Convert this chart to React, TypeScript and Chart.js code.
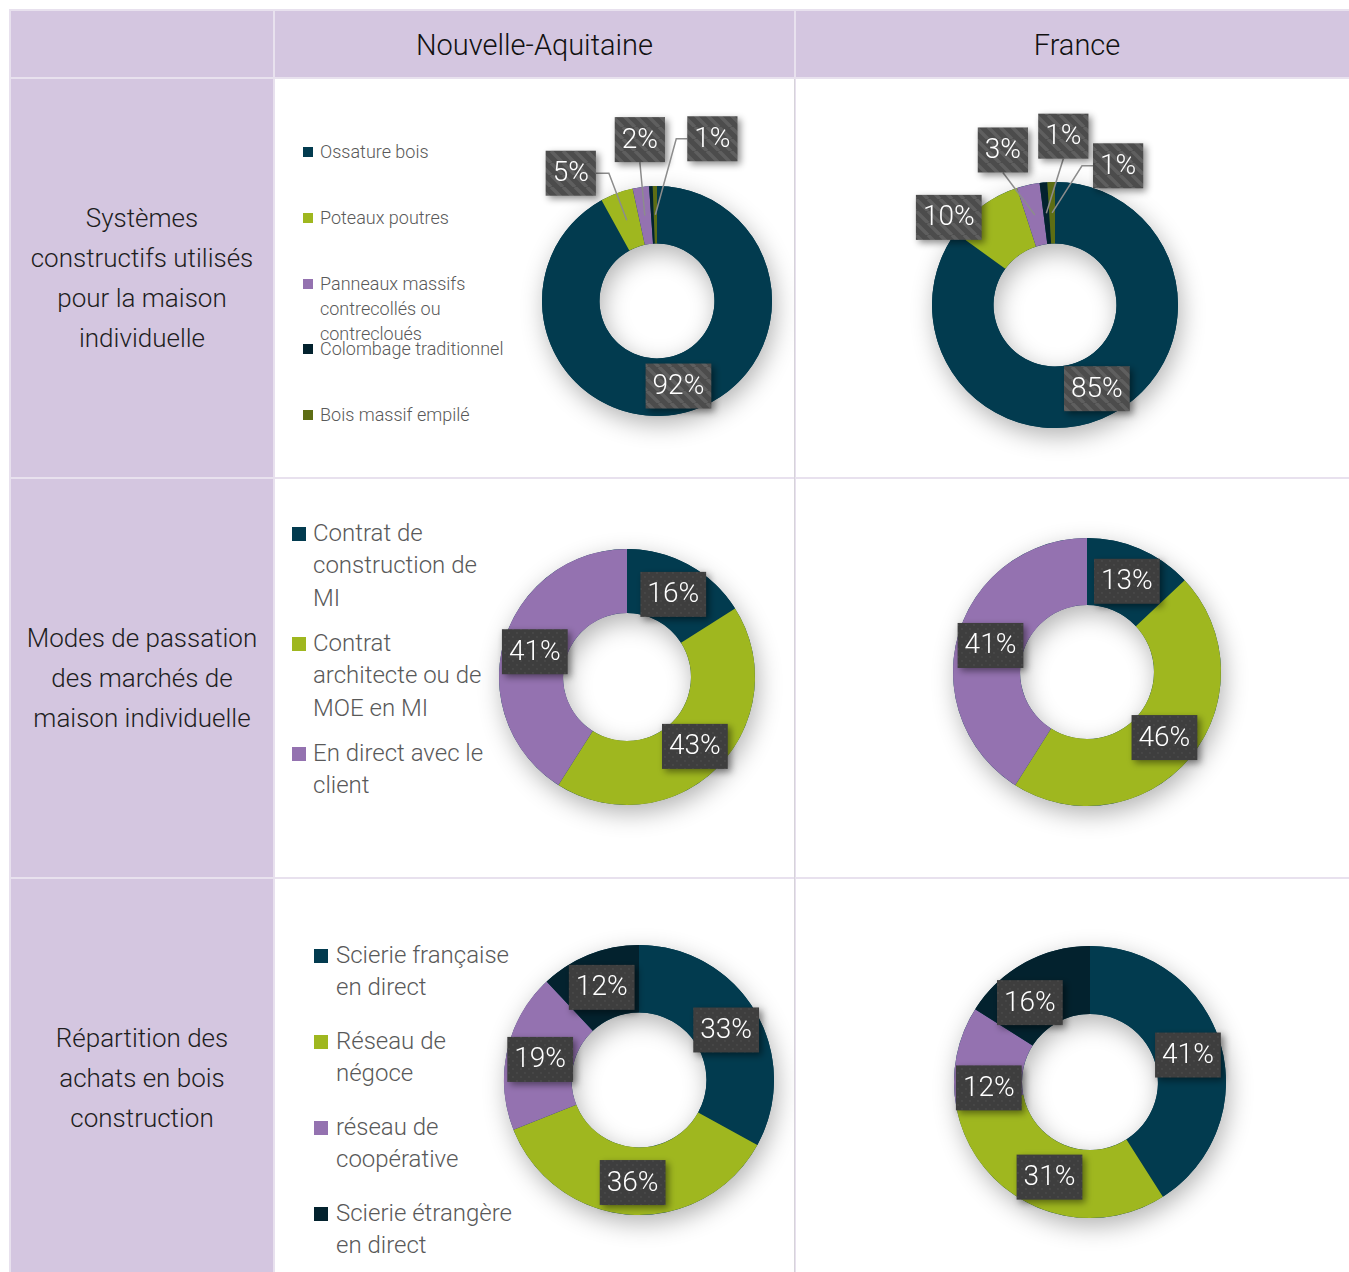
import React, { useEffect, useRef } from "react";
import { Chart, registerables } from "chart.js";
Chart.register(...registerables);

// ---------- DATA ----------
const colTitles = ["Nouvelle-Aquitaine", "France"];
const rowTitles = [
  ["Systèmes", "constructifs utilisés", "pour la maison", "individuelle"],
  ["Modes de passation", "des marchés de", "maison individuelle"],
  ["Répartition des", "achats en bois", "construction"],
];

const systemesLabels = [
  "Ossature bois",
  "Poteaux poutres",
  "Panneaux massifs contrecollés ou contrecloués",
  "Colombage traditionnel",
  "Bois massif empilé",
];
const systemesNA = [92, 4.6, 2.3, 0.5, 0.6];
const systemesFR = [85, 10, 3, 1, 1];

const modesLabels = [
  "Contrat de construction de MI",
  "Contrat architecte ou de MOE en MI",
  "En direct avec le client",
];
const modesNA = [16, 43, 41];
const modesFR = [13, 46, 41];

const achatsLabels = [
  "Scierie française en direct",
  "Réseau de négoce",
  "réseau de coopérative",
  "Scierie étrangère en direct",
];
const achatsNA = [33, 36, 19, 12];
const achatsFR = [41, 31, 12, 16];

// ---------- STYLE ----------
const TEAL = "#023b4f";
const GREEN = "#9fb71f";
const PURPLE = "#9472b0";
const DARK = "#03222e";
const OLIVE = "#5d6d14";
const systemesColors = [TEAL, GREEN, PURPLE, DARK, OLIVE];
const modesColors = [TEAL, GREEN, PURPLE];
const achatsColors = [TEAL, GREEN, PURPLE, DARK];

const FONT = "Roboto, 'Open Sans', sans-serif";
const HEADER_BG = "#d4c6e0";
const LINE = "#e8e1ee";

type Offset = { dx: number; dy: number; leader?: "left" | "right" | "bottom" | null } | null;
type Geo = { left: number; top: number; width: number; height: number; cx: number; cy: number; R: number };

const COLS = [
  { left: 275, right: 794 },
  { left: 796, right: 1349 },
];
const ROWS = [
  { top: 79, bottom: 477 },
  { top: 479, bottom: 877 },
  { top: 879, bottom: 1272 },
];

function makePattern(kind: "stripes" | "dots") {
  const t = document.createElement("canvas");
  const s = kind === "stripes" ? 12 : 8;
  t.width = s;
  t.height = s;
  const g = t.getContext("2d")!;
  if (kind === "stripes") {
    g.fillStyle = "#4c4c4c";
    g.fillRect(0, 0, s, s);
    g.strokeStyle = "#5f5f5f";
    g.lineWidth = 3.5;
    for (let k = -1; k <= 1; k++) {
      g.beginPath();
      g.moveTo(k * s, 0);
      g.lineTo(k * s + s, s);
      g.stroke();
    }
  } else {
    g.fillStyle = "#3e3e3e";
    g.fillRect(0, 0, s, s);
    g.fillStyle = "#4b4b4b";
    g.beginPath();
    g.arc(2, 2, 0.9, 0, Math.PI * 2);
    g.fill();
    g.beginPath();
    g.arc(6, 6, 0.9, 0, Math.PI * 2);
    g.fill();
  }
  return t;
}

function Donut(props: {
  labels: string[];
  values: number[];
  colors: string[];
  geo: Geo;
  offsets: Offset[];
  hidden: number[];
  pattern: "stripes" | "dots";
}) {
  const ref = useRef<HTMLCanvasElement>(null);
  const { geo } = props;
  useEffect(() => {
    const canvas = ref.current!;
    const tile = makePattern(props.pattern);
    const plugin = {
      id: "boxLabels",
      beforeDatasetsDraw(chart: any) {
        const meta = chart.getDatasetMeta(0);
        const a = meta.data[0];
        if (!a) return;
        const ctx = chart.ctx;
        ctx.save();
        ctx.shadowColor = "rgba(0,0,0,0.3)";
        ctx.shadowBlur = 24;
        ctx.shadowOffsetX = 3;
        ctx.shadowOffsetY = 8;
        ctx.fillStyle = props.colors[0];
        ctx.beginPath();
        ctx.arc(a.x, a.y, a.outerRadius, 0, Math.PI * 2);
        ctx.arc(a.x, a.y, a.innerRadius, Math.PI * 2, 0, true);
        ctx.fill("evenodd");
        ctx.restore();
      },
      afterDatasetsDraw(chart: any) {
        const ctx = chart.ctx;
        const meta = chart.getDatasetMeta(0);
        const data = chart.data.datasets[0].data as number[];
        const pat = ctx.createPattern(tile, "repeat");
        ctx.save();
        ctx.font = `300 28px ${FONT}`;
        ctx.textAlign = "center";
        ctx.textBaseline = "middle";
        meta.data.forEach((arc: any, i: number) => {
          if (props.hidden.includes(i)) return;
          const mid = (arc.startAngle + arc.endAngle) / 2;
          const r = (arc.innerRadius + arc.outerRadius) / 2;
          const px = arc.x + Math.cos(mid) * r;
          const py = arc.y + Math.sin(mid) * r;
          const off = props.offsets[i];
          const lx = px + (off ? off.dx : 0);
          const ly = py + (off ? off.dy : 1.5);
          const text = Math.round(data[i]) + "%";
          const w = ctx.measureText(text).width + 14;
          const h = 45;
          const bx = lx - w / 2;
          const by = ly - h / 2;
          // leader
          if (off && off.leader) {
            ctx.save();
            ctx.strokeStyle = "#8c8c8c";
            ctx.lineWidth = 1.5;
            ctx.beginPath();
            if (off.leader === "bottom") {
              ctx.moveTo(lx, by + h);
            } else if (off.leader === "left") {
              ctx.moveTo(bx, ly);
              ctx.lineTo(bx - 11, ly);
            } else {
              ctx.moveTo(bx + w, ly);
              ctx.lineTo(bx + w + 13, ly);
            }
            ctx.lineTo(px, py);
            ctx.stroke();
            ctx.restore();
          }
          ctx.save();
          ctx.shadowColor = "rgba(0,0,0,0.45)";
          ctx.shadowBlur = 7;
          ctx.shadowOffsetX = 3;
          ctx.shadowOffsetY = 3;
          ctx.fillStyle = pat;
          ctx.fillRect(bx, by, w, h);
          ctx.restore();
          ctx.fillStyle = "#ffffff";
          ctx.fillText(text, lx, ly + 1);
        });
        ctx.restore();
      },
    };
    const chart = new Chart(canvas, {
      type: "doughnut",
      data: {
        labels: props.labels,
        datasets: [
          {
            data: props.values,
            backgroundColor: props.colors,
            borderWidth: 0,
            hoverOffset: 0,
          },
        ],
      },
      options: {
        responsive: false,
        animation: false,
        cutout: "50%",
        radius: geo.R,
        events: [],
        layout: {
          padding: {
            left: geo.cx - geo.left - geo.R,
            right: geo.left + geo.width - geo.cx - geo.R,
            top: geo.cy - geo.top - geo.R,
            bottom: geo.top + geo.height - geo.cy - geo.R,
          },
        },
        plugins: { legend: { display: false }, tooltip: { enabled: false } },
      } as any,
      plugins: [plugin as any],
    });
    return () => chart.destroy();
  }, []);
  return (
    <canvas
      ref={ref}
      width={geo.width}
      height={geo.height}
      style={{ position: "absolute", left: geo.left, top: geo.top, width: geo.width, height: geo.height }}
    />
  );
}

function Legend(props: {
  labels: string[];
  colors: string[];
  x: number;
  ys: number[];
  sq: number;
  gap: number;
  fontSize: number;
  lineHeight: number;
  textWidth: number;
}) {
  return (
    <>
      {props.labels.map((l, i) => (
        <div
          key={i}
          style={{
            position: "absolute",
            left: props.x,
            top: props.ys[i] - props.lineHeight / 2,
            display: "flex",
            alignItems: "flex-start",
          }}
        >
          <div
            style={{
              width: props.sq,
              height: props.sq,
              background: props.colors[i],
              marginTop: (props.lineHeight - props.sq) / 2 + 1,
              marginRight: props.gap,
              flex: "none",
            }}
          />
          <div
            style={{
              width: props.textWidth,
              fontFamily: FONT,
              fontWeight: 300,
              fontSize: props.fontSize,
              lineHeight: props.lineHeight + "px",
              color: "#595959",
            }}
          >
            {l}
          </div>
        </div>
      ))}
    </>
  );
}

function geoFor(col: number, row: number, cx: number, cy: number, R: number): Geo {
  return {
    left: COLS[col].left,
    top: ROWS[row].top,
    width: COLS[col].right - COLS[col].left,
    height: ROWS[row].bottom - ROWS[row].top,
    cx,
    cy,
    R,
  };
}

export default function App() {
  const cell = (left: number, top: number, w: number, h: number, bg: string, key: string) => (
    <div key={key} style={{ position: "absolute", left, top, width: w, height: h, background: bg }} />
  );
  return (
    <div
      style={{
        position: "absolute",
        left: 0,
        top: 0,
        width: 1349,
        height: 1272,
        overflow: "hidden",
        background: "#ffffff",
      }}
    >
      {/* table grid background */}
      {cell(9, 9, 1360, 1280, LINE, "grid")}
      {cell(794, 79, 1, 1200, "#d6d3da", "vline")}
      {/* header row */}
      {cell(11, 11, 262, 66, HEADER_BG, "h0")}
      {cell(275, 11, 519, 66, HEADER_BG, "h1")}
      {cell(796, 11, 600, 66, HEADER_BG, "h2")}
      {/* left column */}
      {ROWS.map((r, i) => cell(11, r.top, 262, r.bottom - r.top + (i === 2 ? 10 : 0), HEADER_BG, "l" + i))}
      {/* body cells */}
      {ROWS.map((r, i) =>
        COLS.map((c, j) =>
          cell(c.left, r.top, c.right - c.left + (j === 1 ? 20 : 0), r.bottom - r.top + (i === 2 ? 10 : 0), "#ffffff", `b${i}${j}`)
        )
      )}
      {/* header texts */}
      {colTitles.map((t, j) => (
        <div
          key={t}
          style={{
            position: "absolute",
            left: COLS[j].left,
            width: j === 0 ? 519 : 562,
            top: 11,
            height: 68,
            display: "flex",
            alignItems: "center",
            justifyContent: "center",
            fontFamily: FONT,
            fontWeight: 300,
            fontSize: 29,
            color: "#111",
          }}
        >
          {t}
        </div>
      ))}
      {/* row titles */}
      {rowTitles.map((lines, i) => (
        <div
          key={i}
          style={{
            position: "absolute",
            left: 11,
            width: 262,
            top: ROWS[i].top,
            height: i === 2 ? 398 : ROWS[i].bottom - ROWS[i].top,
            display: "flex",
            flexDirection: "column",
            alignItems: "center",
            justifyContent: "center",
            fontFamily: FONT,
            fontWeight: 300,
            fontSize: 26,
            lineHeight: "40px",
            color: "#1e1e1e",
            textAlign: "center",
          }}
        >
          {lines.map((l, k) => (
            <div key={k}>{l}</div>
          ))}
        </div>
      ))}

      {/* legends */}
      <Legend
        labels={systemesLabels}
        colors={systemesColors}
        x={303}
        ys={[151, 217, 283, 348, 414]}
        sq={10}
        gap={7}
        fontSize={18}
        lineHeight={25}
        textWidth={195}
      />
      <Legend
        labels={modesLabels}
        colors={modesColors}
        x={292}
        ys={[533, 643, 753]}
        sq={14}
        gap={7}
        fontSize={24}
        lineHeight={32.5}
        textWidth={186}
      />
      <Legend
        labels={achatsLabels}
        colors={achatsColors}
        x={314}
        ys={[955, 1041, 1127, 1213]}
        sq={14}
        gap={8}
        fontSize={24}
        lineHeight={32}
        textWidth={190}
      />

      {/* charts */}
      <Donut
        labels={systemesLabels}
        values={systemesNA}
        colors={systemesColors}
        geo={geoFor(0, 0, 657, 301, 115)}
        offsets={[null, { dx: -56, dy: -47, leader: "right" }, { dx: -5, dy: -76, leader: "bottom" }, null, { dx: 57, dy: -76, leader: "left" }]}
        hidden={[3]}
        pattern="stripes"
      />
      <Donut
        labels={systemesLabels}
        values={systemesFR}
        colors={systemesColors}
        geo={geoFor(1, 0, 1055, 305, 123)}
        offsets={[null, { dx: -52, dy: -13, leader: null }, { dx: -32, dy: -65, leader: "bottom" }, { dx: 17, dy: -77, leader: "bottom" }, { dx: 66, dy: -47, leader: "left" }]}
        hidden={[]}
        pattern="stripes"
      />
      <Donut
        labels={modesLabels}
        values={modesNA}
        colors={modesColors}
        geo={geoFor(0, 1, 627, 677, 128)}
        offsets={[null, null, null]}
        hidden={[]}
        pattern="dots"
      />
      <Donut
        labels={modesLabels}
        values={modesFR}
        colors={modesColors}
        geo={geoFor(1, 1, 1087, 672, 134)}
        offsets={[null, null, null]}
        hidden={[]}
        pattern="dots"
      />
      <Donut
        labels={achatsLabels}
        values={achatsNA}
        colors={achatsColors}
        geo={geoFor(0, 2, 639, 1080, 135)}
        offsets={[null, null, null, null]}
        hidden={[]}
        pattern="dots"
      />
      <Donut
        labels={achatsLabels}
        values={achatsFR}
        colors={achatsColors}
        geo={geoFor(1, 2, 1090, 1082, 136)}
        offsets={[null, null, { dx: -1, dy: 25, leader: null }, { dx: -11, dy: 10, leader: null }]}
        hidden={[]}
        pattern="dots"
      />
    </div>
  );
}
